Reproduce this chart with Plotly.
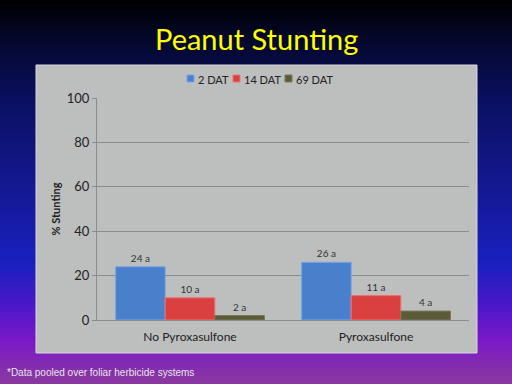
import plotly.graph_objects as go

categories = ["No Pyroxasulfone", "Pyroxasulfone"]
series_names = ["2 DAT", "14 DAT", "69 DAT"]
dat2 = [24, 26]
dat14 = [10, 11]
dat69 = [2, 4]
labels2 = ["24 a", "26 a"]
labels14 = ["10 a", "11 a"]
labels69 = ["2 a", "4 a"]
y_ticks = [0, 20, 40, 60, 80, 100]

W, H = 512, 384
L, R, T, B = 97, 469, 98, 320  # plot area pixels


def px(x):
    return (x - L) / (R - L)


def py(y):
    return (B - y) / (B - T)


def hex2rgb(h):
    h = h.lstrip("#")
    return tuple(int(h[i:i + 2], 16) for i in (0, 2, 4))


stops = [(0, "#000000"), (40, "#05082c"), (100, "#0a1060"), (180, "#13188e"),
         (265, "#1a20c0"), (305, "#4a18c8"), (340, "#7a18c8"), (384, "#8a3aa0")]


def color_at(y):
    for (y0, c0), (y1, c1) in zip(stops[:-1], stops[1:]):
        if y0 <= y <= y1:
            t = (y - y0) / (y1 - y0)
            a, b = hex2rgb(c0), hex2rgb(c1)
            return "rgb(%d,%d,%d)" % tuple(round(a[i] + (b[i] - a[i]) * t) for i in range(3))
    return stops[-1][1]


shapes = []
step = 4
for yy in range(0, H, step):
    shapes.append(dict(type="rect", xref="paper", yref="paper", layer="below",
                       x0=px(-2), x1=px(W + 2), y0=py(yy + step + 0.5), y1=py(yy - 0.5),
                       fillcolor=color_at(yy + step / 2), line=dict(width=0)))
# gray chart panel
shapes.append(dict(type="rect", xref="paper", yref="paper", layer="below",
                   x0=px(36), x1=px(477), y0=py(353), y1=py(65),
                   fillcolor="#bdbebe", line=dict(color="#d8d8e0", width=1)))

fig = go.Figure()
colors = ["#4a7fcc", "#d9403f", "#5b5a3a"]
borders = ["#7aa6e6", "#ee7070", "#7a7850"]
for name, vals, labs, c, bc in zip(series_names, [dat2, dat14, dat69],
                                   [labels2, labels14, labels69], colors, borders):
    fig.add_trace(go.Bar(x=categories, y=vals, name=name, text=labs,
                         textposition="outside", cliponaxis=False, showlegend=False,
                         textfont=dict(family="Lato", size=10, color="#333333"),
                         marker=dict(color=c, line=dict(color=bc, width=1))))

# legend: small square keys + series names placed like the original slide
key_x = [187, 233, 285]
annotations = []
for name, c, bc, kx in zip(series_names, colors, borders, key_x):
    shapes.append(dict(type="rect", xref="paper", yref="paper",
                       x0=px(kx), x1=px(kx + 7), y0=py(82), y1=py(75),
                       fillcolor=c, line=dict(color=bc, width=1)))
    annotations.append(dict(text=name, xref="paper", yref="paper", x=px(kx + 9), y=py(79),
                            xanchor="left", yanchor="middle", showarrow=False,
                            font=dict(family="Lato", size=11, color="#222222")))

annotations += [
    dict(text="Peanut Stunting", xref="paper", yref="paper", x=px(256), y=py(38),
         xanchor="center", yanchor="middle", showarrow=False,
         font=dict(family="Lato", size=29, color="#ffff00")),
    dict(text="*Data pooled over foliar herbicide systems", xref="paper", yref="paper",
         x=px(5), y=py(372), xanchor="left", yanchor="middle", showarrow=False,
         font=dict(family="Liberation Sans", size=10, color="#e6e6e6")),
]

fig.update_layout(
    width=W, height=H,
    margin=dict(l=L, r=W - R, t=T, b=H - B),
    paper_bgcolor="#000000", plot_bgcolor="rgba(0,0,0,0)",
    barmode="group", bargap=0.2, bargroupgap=0,
    shapes=shapes,
    font=dict(family="Lato", color="#222222"),
    showlegend=False,
    xaxis=dict(showgrid=False, showline=True, linecolor="#8c8c8c", linewidth=1,
               ticks="outside", ticklen=6, tickcolor="rgba(0,0,0,0)",
               tickfont=dict(family="Lato", size=12, color="#222222")),
    yaxis=dict(range=[0, 100], tickvals=y_ticks, showgrid=True, gridcolor="#8c8c8c",
               gridwidth=1, zeroline=False, showline=True, linecolor="#8c8c8c",
               ticks="outside", ticklen=4, tickcolor="#8c8c8c",
               tickfont=dict(family="Lato", size=13, color="#222222"),
               title=dict(text="<b>% Stunting</b>", standoff=3,
                          font=dict(family="Lato", size=11, color="#222222"))),
    annotations=annotations,
)

fig.write_html("out.html", config={"displayModeBar": False},
               post_script="document.body.style.margin='0';document.body.style.padding='0';"
                           "document.body.style.overflow='hidden';")
